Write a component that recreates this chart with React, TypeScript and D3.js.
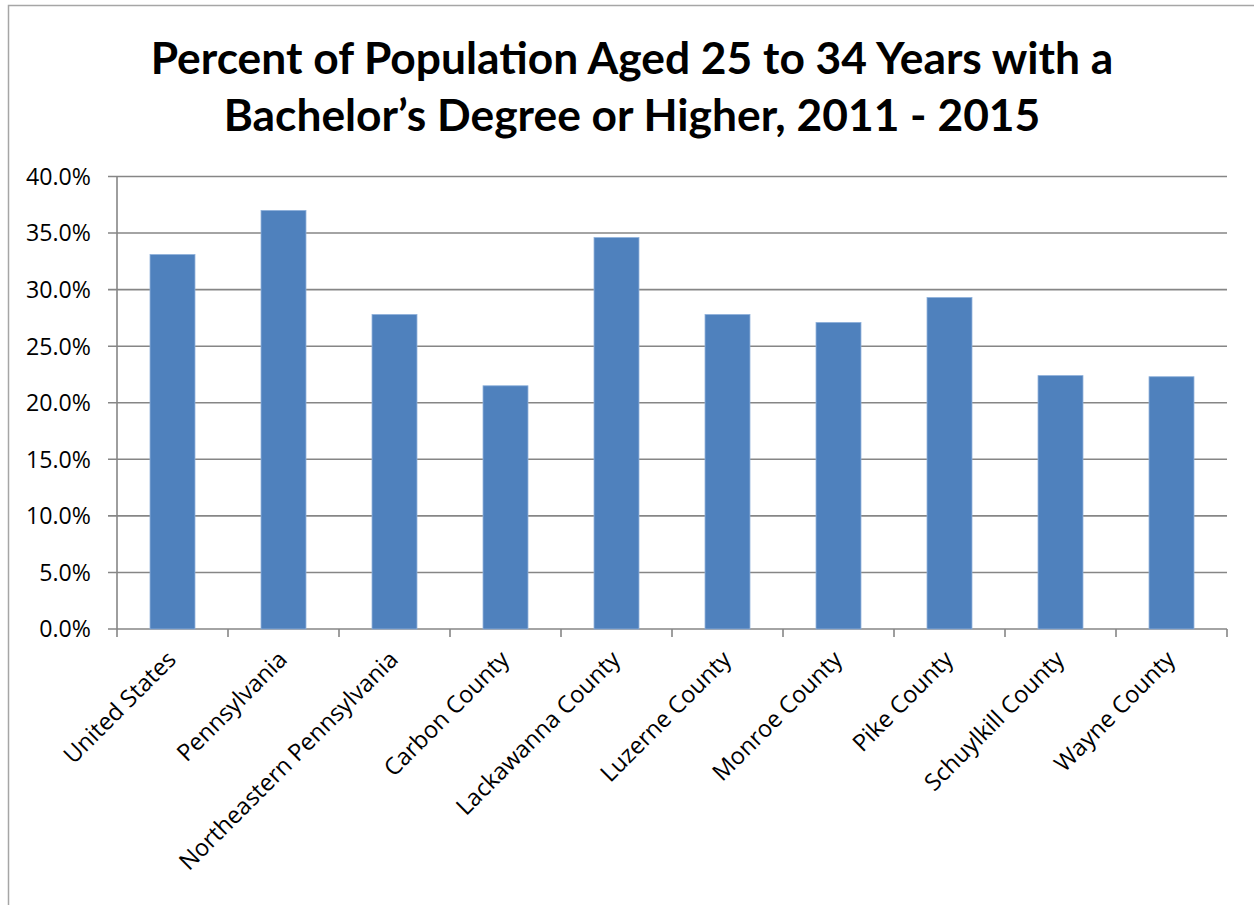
import React, { useLayoutEffect, useRef, useState } from "react";
import * as d3 from "d3";

const categories = [
  "United States",
  "Pennsylvania",
  "Northeastern Pennsylvania",
  "Carbon County",
  "Lackawanna County",
  "Luzerne County",
  "Monroe County",
  "Pike County",
  "Schuylkill County",
  "Wayne County",
];
const values = [33.1, 37.0, 27.8, 21.5, 34.6, 27.8, 27.1, 29.3, 22.4, 22.3];
const yTicks = [0, 5, 10, 15, 20, 25, 30, 35, 40];
const titleLines = [
  "Percent of Population Aged 25 to 34 Years with a",
  "Bachelor\u2019s Degree or Higher, 2011 - 2015",
];

const W = 1254;
const H = 905;
const plot = { left: 117, right: 1227, top: 176.5, bottom: 629 };
const TITLE_FONT = "Lato, 'Open Sans', sans-serif";
const FONT = "'Open Sans', Lato, sans-serif";
const TITLE_TARGET = 963;
const TICK_TARGET = 65;
const CAT_TARGET = 298;

export default function App() {
  const titleRef = useRef<SVGTextElement>(null);
  const tickRef = useRef<SVGTextElement>(null);
  const catRef = useRef<SVGTextElement>(null);
  const [sizes, setSizes] = useState({ title: 44.5, tick: 20, cat: 22 });

  useLayoutEffect(() => {
    const m = (el: SVGTextElement | null) => (el ? el.getComputedTextLength() : 0);
    const t = m(titleRef.current);
    const k = m(tickRef.current);
    const c = m(catRef.current);
    setSizes({
      title: t ? (40 * TITLE_TARGET) / t : 44.5,
      tick: k ? (20 * TICK_TARGET) / k : 20,
      cat: c ? (20 * CAT_TARGET) / c : 22,
    });
  }, []);

  const x = d3
    .scaleBand<string>()
    .domain(categories)
    .range([plot.left, plot.right])
    .paddingInner(0.595)
    .paddingOuter(0.2975);
  const xTick = d3
    .scaleLinear()
    .domain([0, categories.length])
    .range([plot.left, plot.right]);
  const y = d3.scaleLinear().domain([0, 40]).range([plot.bottom, plot.top]);

  return (
    <svg
      width={W}
      height={H}
      style={{ position: "absolute", left: 0, top: 0, background: "#fff" }}
    >
      <g visibility="hidden">
        <text ref={titleRef} fontFamily={TITLE_FONT} fontWeight="bold" fontSize={40}>
          {titleLines[0]}
        </text>
        <text ref={tickRef} fontFamily={FONT} fontSize={20}>
          40.0%
        </text>
        <text ref={catRef} fontFamily={FONT} fontSize={20}>
          {categories[2]}
        </text>
      </g>
      <rect x={8.5} y={5.5} width={W + 10} height={H + 10} fill="#fff" stroke="#a6a6a6" strokeWidth={1.5} />
      {titleLines.map((t, i) => (
        <text
          key={i}
          x={632}
          y={74 + i * 57}
          textAnchor="middle"
          fontFamily={TITLE_FONT}
          fontWeight="bold"
          fontSize={sizes.title}
          fill="#000"
        >
          {t}
        </text>
      ))}
      {yTicks.map((t) => (
        <g key={t}>
          <line
            x1={plot.left - 9}
            x2={plot.right}
            y1={y(t)}
            y2={y(t)}
            stroke="#868686"
            strokeWidth={1.6}
          />
          <text
            x={91}
            y={y(t)}
            dy="0.36em"
            textAnchor="end"
            fontFamily={FONT}
            fontSize={sizes.tick}
            fill="#000"
          >
            {t.toFixed(1) + "%"}
          </text>
        </g>
      ))}
      <line x1={plot.left} x2={plot.left} y1={plot.top} y2={plot.bottom} stroke="#868686" strokeWidth={1.6} />
      {d3.range(categories.length + 1).map((i) => (
        <line
          key={i}
          x1={xTick(i)}
          x2={xTick(i)}
          y1={plot.bottom}
          y2={plot.bottom + 8}
          stroke="#868686"
          strokeWidth={1.6}
        />
      ))}
      {categories.map((c, i) => (
        <rect
          key={c}
          x={x(c)}
          y={y(values[i])}
          width={x.bandwidth()}
          height={y(0) - y(values[i])}
          fill="#4f81bd"
          stroke="#8eb0da"
          strokeWidth={0.8}
        />
      ))}
      {categories.map((c) => {
        const cx = (x(c) as number) + x.bandwidth() / 2 + 5;
        const cy = plot.bottom + 32;
        return (
          <text
            key={c}
            transform={`translate(${cx},${cy}) rotate(-45)`}
            textAnchor="end"
            fontFamily={FONT}
            fontSize={sizes.cat}
            fill="#000"
          >
            {c}
          </text>
        );
      })}
    </svg>
  );
}
